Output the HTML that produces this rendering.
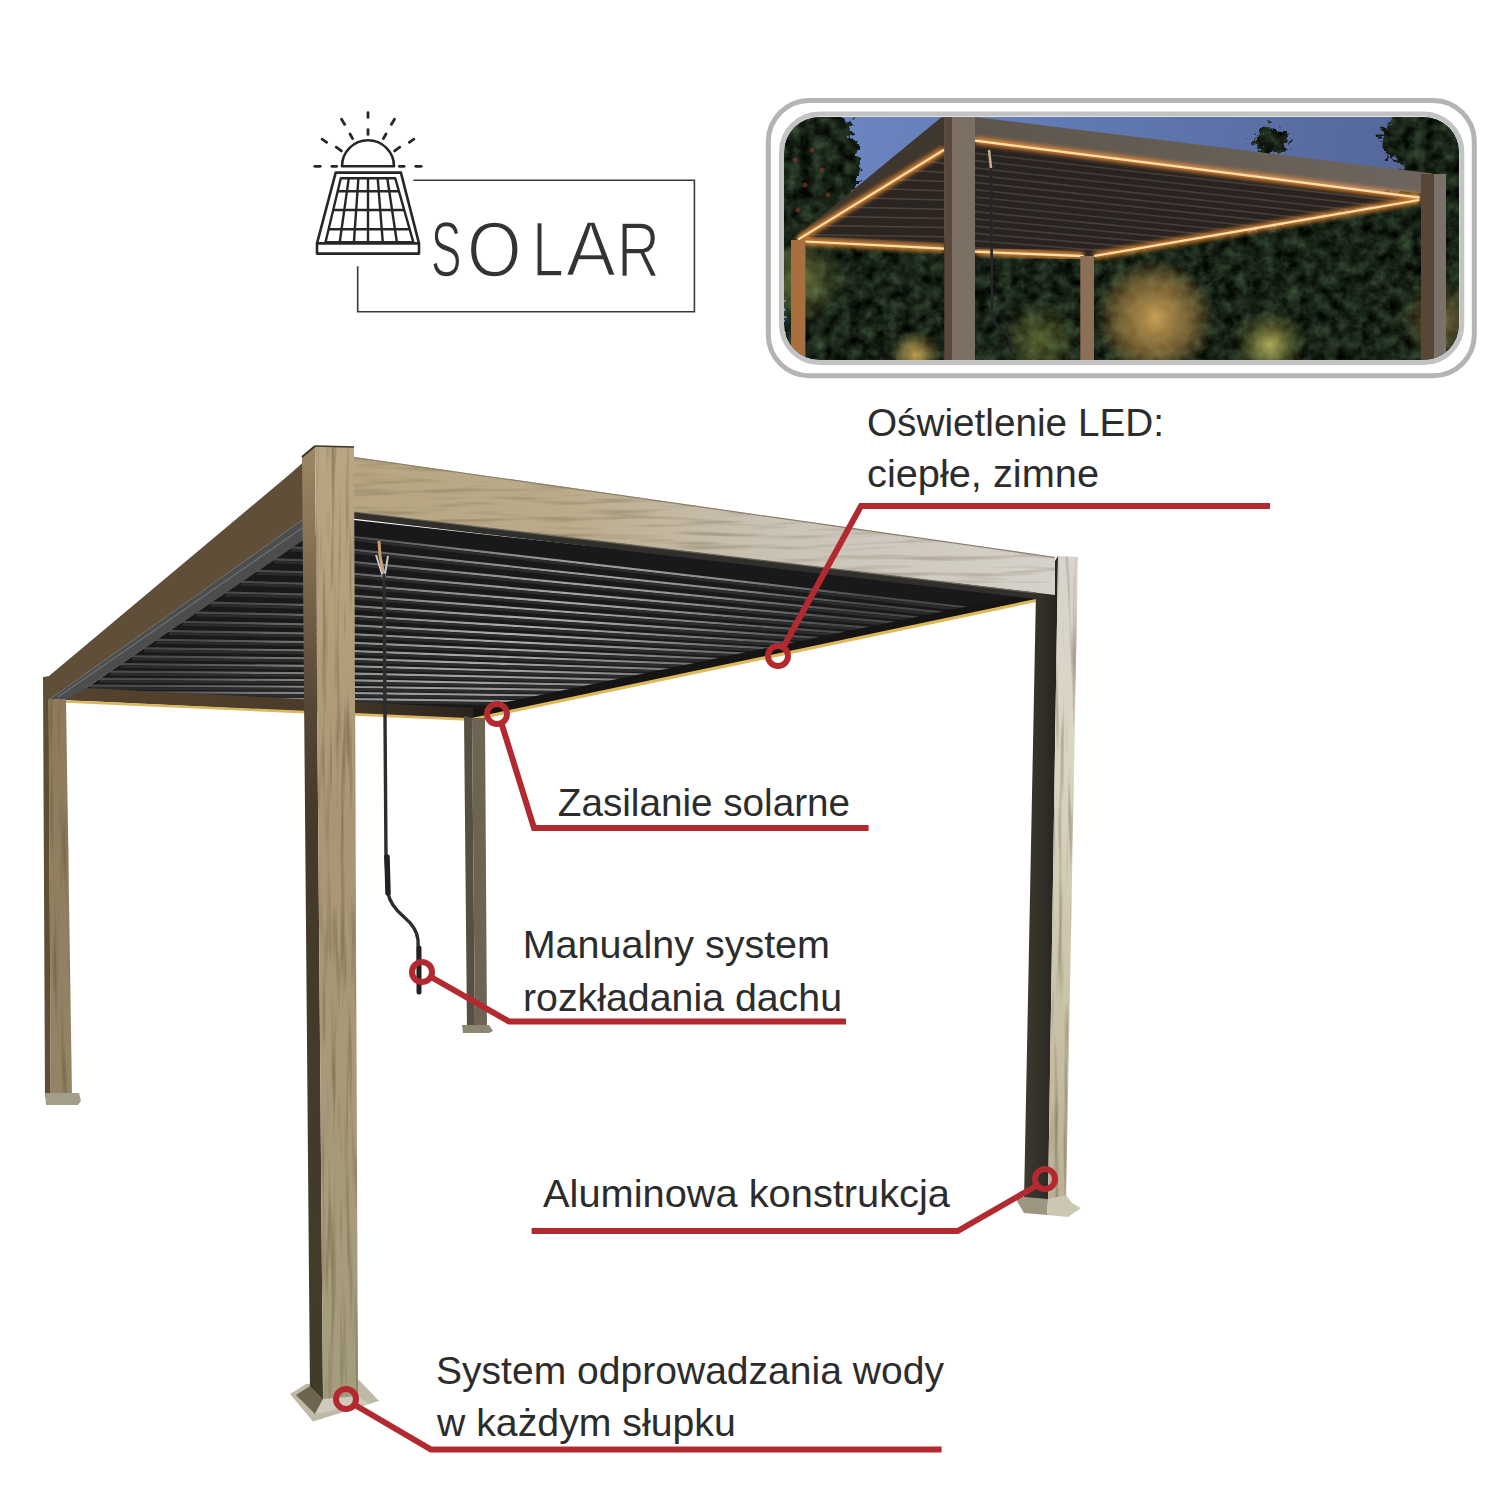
<!DOCTYPE html>
<html><head><meta charset="utf-8"><style>
html,body{margin:0;padding:0;background:#ffffff;}
svg{display:block;}
</style></head><body>
<svg width="1500" height="1500" viewBox="0 0 1500 1500">
<rect width="1500" height="1500" fill="#ffffff"/>
<defs>
<linearGradient id="gBeam" x1="354" y1="0" x2="1055" y2="0" gradientUnits="userSpaceOnUse">
  <stop offset="0" stop-color="#b8a682"/><stop offset="0.3" stop-color="#bcab8a"/><stop offset="0.6" stop-color="#cac3b5"/><stop offset="1" stop-color="#d6d2ca"/>
</linearGradient>
<linearGradient id="gPostF" x1="0" y1="446" x2="0" y2="1400" gradientUnits="userSpaceOnUse">
  <stop offset="0" stop-color="#b9a783"/><stop offset="0.4" stop-color="#aa9674"/><stop offset="1" stop-color="#a59d7d"/>
</linearGradient>
<linearGradient id="gPostS" x1="0" y1="446" x2="0" y2="1400" gradientUnits="userSpaceOnUse">
  <stop offset="0" stop-color="#9c8866"/><stop offset="0.08" stop-color="#8c7858"/><stop offset="0.27" stop-color="#554636"/><stop offset="0.4" stop-color="#45392a"/><stop offset="1" stop-color="#3f3c2b"/>
</linearGradient>
<linearGradient id="gRPostL" x1="0" y1="556" x2="0" y2="1200" gradientUnits="userSpaceOnUse">
  <stop offset="0" stop-color="#d8d4cc"/><stop offset="0.3" stop-color="#dbd5c3"/><stop offset="0.7" stop-color="#cac2a9"/><stop offset="1" stop-color="#b9b096"/>
</linearGradient>
<linearGradient id="gRPostD" x1="1024" y1="0" x2="1058" y2="0" gradientUnits="userSpaceOnUse">
  <stop offset="0" stop-color="#3d3a2f"/><stop offset="1" stop-color="#26241f"/>
</linearGradient>
<linearGradient id="gLPost" x1="0" y1="676" x2="0" y2="1100" gradientUnits="userSpaceOnUse">
  <stop offset="0" stop-color="#8e7a5a"/><stop offset="1" stop-color="#948466"/>
</linearGradient>
<radialGradient id="gSlat" cx="0" cy="0" r="1" gradientUnits="userSpaceOnUse" gradientTransform="translate(520,630) rotate(-25) scale(480,160)">
  <stop offset="0" stop-color="#b0b0b0"/><stop offset="0.5" stop-color="#88898a"/><stop offset="1" stop-color="#4a4b4d"/>
</radialGradient>
<linearGradient id="gSky" x1="784" y1="117" x2="1400" y2="220" gradientUnits="userSpaceOnUse">
  <stop offset="0" stop-color="#6d88c4"/><stop offset="0.5" stop-color="#6078b0"/><stop offset="1" stop-color="#55679a"/>
</linearGradient>
<linearGradient id="gPhBeam" x1="975" y1="0" x2="1433" y2="0" gradientUnits="userSpaceOnUse">
  <stop offset="0" stop-color="#5e554c"/><stop offset="1" stop-color="#6e665e"/>
</linearGradient>
<radialGradient id="gLit1" cx="1155" cy="318" r="60" gradientUnits="userSpaceOnUse">
  <stop offset="0" stop-color="#d0a458" stop-opacity="0.95"/><stop offset="0.6" stop-color="#b08a48" stop-opacity="0.6"/><stop offset="1" stop-color="#b08a48" stop-opacity="0"/>
</radialGradient>
<radialGradient id="gLit2" cx="1270" cy="345" r="35" gradientUnits="userSpaceOnUse">
  <stop offset="0" stop-color="#d8d070" stop-opacity="0.8"/><stop offset="1" stop-color="#a0a040" stop-opacity="0"/>
</radialGradient>
<radialGradient id="gLit3" cx="800" cy="280" r="45" gradientUnits="userSpaceOnUse">
  <stop offset="0" stop-color="#9aa050" stop-opacity="0.6"/><stop offset="1" stop-color="#9aa050" stop-opacity="0"/>
</radialGradient>
<radialGradient id="gLit4" cx="1040" cy="340" r="40" gradientUnits="userSpaceOnUse">
  <stop offset="0" stop-color="#9aa048" stop-opacity="0.5"/><stop offset="1" stop-color="#9aa048" stop-opacity="0"/>
</radialGradient>
<radialGradient id="gLit5" cx="915" cy="355" r="25" gradientUnits="userSpaceOnUse">
  <stop offset="0" stop-color="#e8c060" stop-opacity="0.8"/><stop offset="1" stop-color="#e8c060" stop-opacity="0"/>
</radialGradient>
<radialGradient id="gLit6" cx="1440" cy="320" r="40" gradientUnits="userSpaceOnUse">
  <stop offset="0" stop-color="#b08a50" stop-opacity="0.6"/><stop offset="1" stop-color="#b08a50" stop-opacity="0"/>
</radialGradient>
<filter color-interpolation-filters="sRGB" id="foliage" x="0" y="0" width="1" height="1">
  <feTurbulence type="fractalNoise" baseFrequency="0.08" numOctaves="4" seed="11"/>
  <feColorMatrix type="matrix" values="0.3 0 0 0 -0.055  0.4 0 0 0 -0.06  0.3 0 0 0 -0.06  0 0 0 0 1"/>
</filter>
<filter color-interpolation-filters="sRGB" id="leafy" x="-20%" y="-20%" width="140%" height="140%">
  <feTurbulence type="turbulence" baseFrequency="0.12" numOctaves="2" seed="5" result="t"/>
  <feDisplacementMap in="SourceGraphic" in2="t" scale="16" xChannelSelector="R" yChannelSelector="G"/>
</filter>
<filter color-interpolation-filters="sRGB" id="grainV" x="0" y="0" width="1" height="1">
  <feTurbulence type="fractalNoise" baseFrequency="0.22 0.01" numOctaves="2" seed="3" result="n"/>
  <feColorMatrix in="n" type="matrix" values="0 0 0 0 0.25  0 0 0 0 0.2  0 0 0 0 0.12  -1.0 0 0 0 0.5" result="c"/>
  <feComposite in="c" in2="SourceAlpha" operator="in" result="g"/>
  <feMerge><feMergeNode in="SourceGraphic"/><feMergeNode in="g"/></feMerge>
</filter>
<filter color-interpolation-filters="sRGB" id="grainH" x="0" y="0" width="1" height="1">
  <feTurbulence type="fractalNoise" baseFrequency="0.012 0.18" numOctaves="2" seed="9" result="n"/>
  <feColorMatrix in="n" type="matrix" values="0 0 0 0 0.3  0 0 0 0 0.25  0 0 0 0 0.18  -0.8 0 0 0 0.4" result="c"/>
  <feComposite in="c" in2="SourceAlpha" operator="in" result="g"/>
  <feMerge><feMergeNode in="SourceGraphic"/><feMergeNode in="g"/></feMerge>
</filter>
<filter color-interpolation-filters="sRGB" id="glow" x="-20%" y="-60%" width="140%" height="220%"><feGaussianBlur stdDeviation="2.4"/></filter>
<filter color-interpolation-filters="sRGB" id="blur1" x="-10%" y="-10%" width="120%" height="120%"><feGaussianBlur stdDeviation="0.8"/></filter>
<linearGradient id="gBack" x1="66" y1="0" x2="473" y2="0" gradientUnits="userSpaceOnUse"><stop offset="0" stop-color="#55432e"/><stop offset="0.6" stop-color="#4a3b2a"/><stop offset="1" stop-color="#2a241e"/></linearGradient>
<clipPath id="roofClip"><polygon points="86,688 302,540 354,520 1036,595 473,712 66,700"/></clipPath>
<clipPath id="photoClip"><rect x="784" y="117" width="675" height="243" rx="35" ry="35"/></clipPath>
</defs><g id="logo"><path d="M342,166.3 A26,26 0 0 1 394,166.3 Z" fill="none" stroke="#262626" stroke-width="2.6" stroke-linejoin="round"/><line x1="368.0" y1="129.6" x2="368.0" y2="134.4" stroke="#262626" stroke-width="2.8" stroke-linecap="round"/><line x1="368.0" y1="112.6" x2="368.0" y2="117.4" stroke="#262626" stroke-width="2.8" stroke-linecap="round"/><line x1="350.0" y1="134.0" x2="352.6" y2="138.6" stroke="#262626" stroke-width="2.8" stroke-linecap="round"/><line x1="386.0" y1="134.0" x2="383.4" y2="138.6" stroke="#262626" stroke-width="2.8" stroke-linecap="round"/><line x1="341.5" y1="119.2" x2="344.7" y2="124.4" stroke="#262626" stroke-width="2.8" stroke-linecap="round"/><line x1="394.5" y1="119.2" x2="391.3" y2="124.4" stroke="#262626" stroke-width="2.8" stroke-linecap="round"/><line x1="336.2" y1="147.2" x2="341.4" y2="150.9" stroke="#262626" stroke-width="2.8" stroke-linecap="round"/><line x1="399.8" y1="147.2" x2="394.6" y2="150.9" stroke="#262626" stroke-width="2.8" stroke-linecap="round"/><line x1="322.1" y1="139.2" x2="326.7" y2="142.3" stroke="#262626" stroke-width="2.8" stroke-linecap="round"/><line x1="413.9" y1="139.2" x2="409.3" y2="142.3" stroke="#262626" stroke-width="2.8" stroke-linecap="round"/><line x1="314.9" y1="166.3" x2="320.2" y2="166.3" stroke="#262626" stroke-width="2.8" stroke-linecap="round"/><line x1="421.1" y1="166.3" x2="415.8" y2="166.3" stroke="#262626" stroke-width="2.8" stroke-linecap="round"/><line x1="331.9" y1="166.3" x2="336.7" y2="166.3" stroke="#262626" stroke-width="2.8" stroke-linecap="round"/><line x1="404.1" y1="166.3" x2="399.3" y2="166.3" stroke="#262626" stroke-width="2.8" stroke-linecap="round"/><path d="M335.7,172.6 L400.9,172.6 L419,243.4 L419,253.6 L317,253.6 L317,243.4 Z" fill="none" stroke="#262626" stroke-width="2.6" stroke-linejoin="round"/><line x1="317.0" y1="243.4" x2="419.0" y2="243.4" stroke="#262626" stroke-width="2.6" /><path d="M340.8,178.2 L395.2,178.2 L413.4,242.3 L325.5,242.3 Z" fill="none" stroke="#262626" stroke-width="2.4" stroke-linejoin="round"/><line x1="337.7" y1="191.3" x2="398.9" y2="191.3" stroke="#262626" stroke-width="2.4" /><line x1="333.2" y1="210.0" x2="404.2" y2="210.0" stroke="#262626" stroke-width="2.4" /><line x1="328.6" y1="229.3" x2="409.7" y2="229.3" stroke="#262626" stroke-width="2.4" /><line x1="348.8" y1="178.2" x2="339.7" y2="242.3" stroke="#262626" stroke-width="2.4" /><line x1="358.4" y1="178.2" x2="353.9" y2="242.3" stroke="#262626" stroke-width="2.4" /><line x1="368.0" y1="178.2" x2="368.0" y2="242.3" stroke="#262626" stroke-width="2.4" /><line x1="377.7" y1="178.2" x2="382.8" y2="242.3" stroke="#262626" stroke-width="2.4" /><line x1="387.3" y1="178.2" x2="396.9" y2="242.3" stroke="#262626" stroke-width="2.4" /><path d="M413.4,180.3 L694.4,180.3 L694.4,311.7 L357.7,311.7 L357.7,266.2" fill="none" stroke="#3a3a3a" stroke-width="1.6"/><text transform="translate(430.7,0) scale(0.6,1)" x="0" y="275.9" font-family="Liberation Sans" font-size="77" fill="#333333" stroke="#ffffff" stroke-width="1.7">S</text><text transform="translate(467.0,0) scale(0.91,1)" x="0" y="275.9" font-family="Liberation Sans" font-size="77" fill="#333333" stroke="#ffffff" stroke-width="1.7">O</text><text transform="translate(532.2,0) scale(0.735,1)" x="0" y="275.9" font-family="Liberation Sans" font-size="77" fill="#333333" stroke="#ffffff" stroke-width="1.7">L</text><text transform="translate(565.9,0) scale(0.968,1)" x="0" y="275.9" font-family="Liberation Sans" font-size="77" fill="#333333" stroke="#ffffff" stroke-width="1.7">A</text><text transform="translate(617.0,0) scale(0.77,1)" x="0" y="275.9" font-family="Liberation Sans" font-size="77" fill="#333333" stroke="#ffffff" stroke-width="1.7">R</text></g><g clip-path="url(#photoClip)"><rect x="784" y="117" width="675" height="243" fill="url(#gSky)"/><mask id="treeMask" maskUnits="userSpaceOnUse" x="770" y="100" width="710" height="280"><g fill="#fff" filter="url(#leafy)"><ellipse cx="800" cy="200" rx="45" ry="110"/><ellipse cx="835" cy="160" rx="22" ry="35"/><ellipse cx="815" cy="128" rx="35" ry="22"/><ellipse cx="870" cy="245" rx="35" ry="18"/><ellipse cx="1440" cy="200" rx="45" ry="120"/><ellipse cx="1405" cy="135" rx="28" ry="25"/><ellipse cx="1400" cy="230" rx="40" ry="40"/><ellipse cx="1268" cy="137" rx="18" ry="14"/><ellipse cx="1330" cy="245" rx="80" ry="35"/><ellipse cx="1220" cy="255" rx="90" ry="30"/><ellipse cx="1000" cy="255" rx="100" ry="25"/><ellipse cx="900" cy="260" rx="80" ry="20"/><ellipse cx="1150" cy="255" rx="60" ry="15"/><ellipse cx="1360" cy="232" rx="60" ry="28"/><ellipse cx="1405" cy="215" rx="40" ry="30"/><ellipse cx="1262" cy="242" rx="45" ry="18"/><rect x="780" y="255" width="690" height="110"/></g></mask><rect x="784" y="100" width="675" height="260" filter="url(#foliage)" mask="url(#treeMask)"/><rect x="784" y="117" width="675" height="243" fill="url(#gLit1)"/><rect x="784" y="117" width="675" height="243" fill="url(#gLit2)"/><rect x="784" y="117" width="675" height="243" fill="url(#gLit3)"/><rect x="784" y="117" width="675" height="243" fill="url(#gLit4)"/><rect x="784" y="117" width="675" height="243" fill="url(#gLit5)"/><rect x="784" y="117" width="675" height="243" fill="url(#gLit6)"/><circle cx="795" cy="160" r="2.5" fill="#8a3a2a" opacity="0.6"/><circle cx="805" cy="185" r="2.5" fill="#8a3a2a" opacity="0.6"/><circle cx="822" cy="170" r="2.5" fill="#8a3a2a" opacity="0.6"/><circle cx="798" cy="210" r="2.5" fill="#8a3a2a" opacity="0.6"/><circle cx="812" cy="150" r="2.5" fill="#8a3a2a" opacity="0.6"/><circle cx="828" cy="195" r="2.5" fill="#8a3a2a" opacity="0.6"/><polygon points="798.0,239.6 944.4,149.6 944.4,246.0 805.0,238.0" fill="#2a2521" /><line x1="925.5" y1="161.2" x2="944.0" y2="163.2" stroke="#564a40" stroke-width="1.5" opacity="0.8"/><line x1="910.6" y1="170.4" x2="944.0" y2="172.4" stroke="#564a40" stroke-width="1.5" opacity="0.8"/><line x1="895.6" y1="179.6" x2="944.0" y2="181.6" stroke="#564a40" stroke-width="1.5" opacity="0.8"/><line x1="880.6" y1="188.8" x2="944.0" y2="190.8" stroke="#564a40" stroke-width="1.5" opacity="0.8"/><line x1="865.7" y1="198.0" x2="944.0" y2="200.0" stroke="#564a40" stroke-width="1.5" opacity="0.8"/><line x1="850.7" y1="207.2" x2="944.0" y2="209.2" stroke="#564a40" stroke-width="1.5" opacity="0.8"/><line x1="835.7" y1="216.4" x2="944.0" y2="218.4" stroke="#564a40" stroke-width="1.5" opacity="0.8"/><line x1="820.8" y1="225.6" x2="944.0" y2="227.6" stroke="#564a40" stroke-width="1.5" opacity="0.8"/><line x1="805.8" y1="234.8" x2="944.0" y2="236.8" stroke="#564a40" stroke-width="1.5" opacity="0.8"/><polygon points="975.0,141.0 1420.0,197.0 1094.0,256.0 975.0,251.0" fill="#282320" /><line x1="975.0" y1="153.3" x2="1396.7" y2="201.2" stroke="#5a5048" stroke-width="1.6" opacity="0.6"/><line x1="975.0" y1="160.6" x2="1373.4" y2="205.4" stroke="#5a5048" stroke-width="1.6" opacity="0.6"/><line x1="975.0" y1="167.9" x2="1350.1" y2="209.6" stroke="#5a5048" stroke-width="1.6" opacity="0.6"/><line x1="975.0" y1="175.1" x2="1326.9" y2="213.9" stroke="#5a5048" stroke-width="1.6" opacity="0.6"/><line x1="975.0" y1="182.4" x2="1303.6" y2="218.1" stroke="#5a5048" stroke-width="1.6" opacity="0.6"/><line x1="975.0" y1="189.7" x2="1280.3" y2="222.3" stroke="#5a5048" stroke-width="1.6" opacity="0.6"/><line x1="975.0" y1="197.0" x2="1257.0" y2="226.5" stroke="#5a5048" stroke-width="1.6" opacity="0.6"/><line x1="975.0" y1="204.3" x2="1233.7" y2="230.7" stroke="#5a5048" stroke-width="1.6" opacity="0.6"/><line x1="975.0" y1="211.6" x2="1210.4" y2="234.9" stroke="#5a5048" stroke-width="1.6" opacity="0.6"/><line x1="975.0" y1="218.9" x2="1187.1" y2="239.1" stroke="#5a5048" stroke-width="1.6" opacity="0.6"/><line x1="975.0" y1="226.1" x2="1163.9" y2="243.4" stroke="#5a5048" stroke-width="1.6" opacity="0.6"/><line x1="975.0" y1="233.4" x2="1140.6" y2="247.6" stroke="#5a5048" stroke-width="1.6" opacity="0.6"/><line x1="975.0" y1="240.7" x2="1117.3" y2="251.8" stroke="#5a5048" stroke-width="1.6" opacity="0.6"/><polygon points="795.6,237.2 940.8,117.8 944.4,117.0 944.4,149.6 798.0,239.6" fill="#3f362e" /><polygon points="975.0,117.0 1433.0,173.6 1433.0,195.0 975.0,140.6" fill="url(#gPhBeam)" /><polygon points="805.0,236.0 944.0,243.0 944.0,249.0 805.0,242.0" fill="#4a3e33" /><polygon points="975.0,247.0 1083.0,252.0 1083.0,257.0 975.0,252.0" fill="#4a3e33" /><line x1="798.0" y1="239.6" x2="944.4" y2="149.6" stroke="#ff9838" stroke-width="6" filter="url(#glow)" opacity="0.95"/><line x1="805.0" y1="241.5" x2="944.0" y2="248.7" stroke="#ff9838" stroke-width="6" filter="url(#glow)" opacity="0.95"/><line x1="975.0" y1="251.7" x2="1083.7" y2="256.2" stroke="#ff9838" stroke-width="6" filter="url(#glow)" opacity="0.95"/><line x1="975.0" y1="140.6" x2="1419.6" y2="197.6" stroke="#ff9838" stroke-width="6" filter="url(#glow)" opacity="0.95"/><line x1="1094.0" y1="256.0" x2="1419.0" y2="200.0" stroke="#ff9838" stroke-width="6" filter="url(#glow)" opacity="0.95"/><line x1="798.0" y1="239.6" x2="944.4" y2="149.6" stroke="#ffe0a8" stroke-width="2.2" /><line x1="805.0" y1="241.5" x2="944.0" y2="248.7" stroke="#ffe0a8" stroke-width="2.2" /><line x1="975.0" y1="251.7" x2="1083.7" y2="256.2" stroke="#ffe0a8" stroke-width="2.2" /><line x1="975.0" y1="140.6" x2="1419.6" y2="197.6" stroke="#ffe0a8" stroke-width="2.2" /><line x1="1094.0" y1="256.0" x2="1419.0" y2="200.0" stroke="#ffe0a8" stroke-width="2.2" /><polygon points="791.0,240.0 805.4,240.0 805.4,360.0 791.0,360.0" fill="#a8703f" /><polygon points="1080.3,256.0 1094.0,256.0 1094.0,360.0 1080.3,360.0" fill="#8d7058" /><polygon points="944.3,117.0 952.0,117.0 952.0,360.0 944.3,360.0" fill="#5a4838" /><polygon points="952.0,117.0 975.0,117.0 975.0,360.0 952.0,360.0" fill="#7c7064" /><polygon points="1421.0,174.0 1434.0,174.0 1434.0,360.0 1421.0,360.0" fill="#5a4636" /><polygon points="1434.0,174.0 1446.0,174.0 1446.0,360.0 1434.0,360.0" fill="#7a7268" /><path d="M991,150 L992,312 Q993,325 1005,333 Q1011,338 1011,345 L1011,352" fill="none" stroke="#26262a" stroke-width="2.6"/><path d="M989,150 L991,168" stroke="#c8b090" stroke-width="2.5"/></g><rect x="781.5" y="114" width="680.3" height="248.6" rx="38" ry="38" fill="none" stroke="#c3c3c3" stroke-width="5"/><rect x="768.3" y="100.5" width="706" height="275.2" rx="41" ry="41" fill="none" stroke="#b4b4b4" stroke-width="5"/><g id="pergola"><polygon points="86.0,688.0 302.0,540.0 354.0,520.0 1036.0,595.0 473.0,712.0 66.0,700.0" fill="#19191b" /><g clip-path="url(#roofClip)"><path d="M309.1,535.2 L354,537.0 L966.9,607.5" fill="none" stroke="url(#gSlat)" stroke-width="2.2"/><path d="M309.1,537.8 L354,539.6 L966.9,610.1" fill="none" stroke="#2c2c2e" stroke-width="2.6"/><path d="M291.1,547.5 L354,549.9 L943.0,612.5" fill="none" stroke="url(#gSlat)" stroke-width="2.2"/><path d="M291.1,550.1 L354,552.5 L943.0,615.1" fill="none" stroke="#2c2c2e" stroke-width="2.6"/><path d="M273.7,559.4 L354,562.2 L918.9,617.5" fill="none" stroke="url(#gSlat)" stroke-width="2.2"/><path d="M273.7,562.0 L354,564.8 L918.9,620.1" fill="none" stroke="#2c2c2e" stroke-width="2.6"/><path d="M257.0,570.9 L354,573.9 L894.5,622.6" fill="none" stroke="url(#gSlat)" stroke-width="2.2"/><path d="M257.0,573.5 L354,576.5 L894.5,625.2" fill="none" stroke="#2c2c2e" stroke-width="2.6"/><path d="M240.9,581.9 L354,585.2 L870.1,627.8" fill="none" stroke="url(#gSlat)" stroke-width="2.2"/><path d="M240.9,584.5 L354,587.8 L870.1,630.4" fill="none" stroke="#2c2c2e" stroke-width="2.6"/><path d="M225.4,592.5 L354,595.9 L845.5,632.9" fill="none" stroke="url(#gSlat)" stroke-width="2.2"/><path d="M225.4,595.1 L354,598.5 L845.5,635.5" fill="none" stroke="#2c2c2e" stroke-width="2.6"/><path d="M210.5,602.7 L354,606.2 L820.8,638.1" fill="none" stroke="url(#gSlat)" stroke-width="2.2"/><path d="M210.5,605.3 L354,608.8 L820.8,640.7" fill="none" stroke="#2c2c2e" stroke-width="2.6"/><path d="M196.1,612.6 L354,616.0 L796.0,643.3" fill="none" stroke="url(#gSlat)" stroke-width="2.2"/><path d="M196.1,615.2 L354,618.6 L796.0,645.9" fill="none" stroke="#2c2c2e" stroke-width="2.6"/><path d="M182.3,622.0 L354,625.4 L771.1,648.5" fill="none" stroke="url(#gSlat)" stroke-width="2.2"/><path d="M182.3,624.6 L354,628.0 L771.1,651.1" fill="none" stroke="#2c2c2e" stroke-width="2.6"/><path d="M169.0,631.1 L354,634.3 L746.2,653.7" fill="none" stroke="url(#gSlat)" stroke-width="2.2"/><path d="M169.0,633.7 L354,636.9 L746.2,656.3" fill="none" stroke="#2c2c2e" stroke-width="2.6"/><path d="M156.2,639.9 L354,642.9 L721.3,659.0" fill="none" stroke="url(#gSlat)" stroke-width="2.2"/><path d="M156.2,642.5 L354,645.5 L721.3,661.6" fill="none" stroke="#2c2c2e" stroke-width="2.6"/><path d="M144.0,648.3 L354,651.1 L696.4,664.2" fill="none" stroke="url(#gSlat)" stroke-width="2.2"/><path d="M144.0,650.9 L354,653.7 L696.4,666.8" fill="none" stroke="#2c2c2e" stroke-width="2.6"/><path d="M132.1,656.4 L354,658.9 L671.5,669.4" fill="none" stroke="url(#gSlat)" stroke-width="2.2"/><path d="M132.1,659.0 L354,661.5 L671.5,672.0" fill="none" stroke="#2c2c2e" stroke-width="2.6"/><path d="M120.8,664.2 L354,666.4 L646.7,674.6" fill="none" stroke="url(#gSlat)" stroke-width="2.2"/><path d="M120.8,666.8 L354,669.0 L646.7,677.2" fill="none" stroke="#2c2c2e" stroke-width="2.6"/><path d="M109.9,671.6 L354,673.6 L622.0,679.8" fill="none" stroke="url(#gSlat)" stroke-width="2.2"/><path d="M109.9,674.2 L354,676.2 L622.0,682.4" fill="none" stroke="#2c2c2e" stroke-width="2.6"/><path d="M99.4,678.8 L354,680.4 L597.4,684.9" fill="none" stroke="url(#gSlat)" stroke-width="2.2"/><path d="M99.4,681.4 L354,683.0 L597.4,687.5" fill="none" stroke="#2c2c2e" stroke-width="2.6"/><path d="M89.4,685.7 L354,687.0 L573.0,690.0" fill="none" stroke="url(#gSlat)" stroke-width="2.2"/><path d="M89.4,688.3 L354,689.6 L573.0,692.6" fill="none" stroke="#2c2c2e" stroke-width="2.6"/><path d="M80.1,692.1 L354,693.2 L546.8,695.5" fill="none" stroke="url(#gSlat)" stroke-width="2.2"/><path d="M80.1,694.7 L354,695.8 L546.8,698.1" fill="none" stroke="#2c2c2e" stroke-width="2.6"/><path d="M71.4,698.0 L354,699.2 L519.8,701.2" fill="none" stroke="url(#gSlat)" stroke-width="2.2"/><path d="M71.4,700.6 L354,701.8 L519.8,703.8" fill="none" stroke="#2c2c2e" stroke-width="2.6"/></g><polygon points="66.0,687.0 473.0,708.0 473.0,720.0 66.0,700.0" fill="url(#gBack)" /><line x1="66.0" y1="701.5" x2="473.0" y2="719.6" stroke="#d9b862" stroke-width="2.6" /><polygon points="473.0,709.0 1036.0,592.0 1036.0,600.0 473.0,720.0" fill="#161514" /><line x1="473.0" y1="719.3" x2="1036.0" y2="600.5" stroke="#e0b85c" stroke-width="3.2" /><polygon points="43.0,677.0 48.7,676.3 290.0,474.0 308.0,458.0 308.0,516.0 48.7,700.0" fill="#604f38" /><polygon points="48.7,700.0 308.0,516.0 308.0,537.0 83.0,690.0 64.7,700.0" fill="#4c4d4e" /><line x1="58.0" y1="697.0" x2="308.0" y2="524.0" stroke="#6d6e6f" stroke-width="1.4" /><polygon points="43.0,678.0 48.7,676.3 50.7,1097.0 45.0,1097.0" fill="#5e4e38" /><polygon points="48.5,699.0 66.0,699.0 72.0,1097.0 50.7,1097.0" fill="url(#gLPost)" filter="url(#grainV)"/><polygon points="45.0,1093.0 79.0,1093.0 81.0,1101.0 78.0,1105.0 46.0,1105.0" fill="#a39d8c" /><polygon points="464.0,716.0 472.0,718.0 475.0,1030.0 467.0,1030.0" fill="#574f42" /><polygon points="472.0,718.0 485.0,718.0 487.0,1030.0 475.0,1030.0" fill="#6d6454" /><polygon points="462.0,1025.0 489.0,1025.0 493.0,1031.0 489.0,1033.0 463.0,1033.0" fill="#8e8674" /><polygon points="1036.0,592.0 1058.0,556.0 1048.0,1201.0 1024.0,1201.0" fill="url(#gRPostD)" /><polygon points="1058.0,556.0 1078.0,557.0 1066.0,1201.0 1048.0,1201.0" fill="url(#gRPostL)" filter="url(#grainV)"/><polygon points="1014.0,1196.0 1048.0,1199.0 1047.0,1215.0 1024.0,1213.0" fill="#9c9580" /><polygon points="1048.0,1199.0 1066.0,1195.0 1072.0,1203.0 1081.0,1208.0 1068.0,1217.0 1047.0,1215.0" fill="#ccc6b4" /><polygon points="348.0,511.0 1036.0,592.0 1036.0,599.0 348.0,518.0" fill="#302f2c" /><polygon points="348.0,456.0 1055.0,557.0 1055.0,595.0 348.0,511.0" fill="url(#gBeam)" filter="url(#grainH)"/><line x1="354.0" y1="457.5" x2="1055.0" y2="557.5" stroke="#8a8070" stroke-width="1.2" /><line x1="354.0" y1="512.0" x2="1036.0" y2="593.0" stroke="#6a655c" stroke-width="1.2" /><polygon points="290.0,1394.0 306.0,1384.0 359.0,1380.0 379.0,1401.0 313.0,1421.5" fill="#bfb9a8" /><polygon points="302.0,457.0 315.0,446.0 323.0,1400.0 310.0,1395.0" fill="url(#gPostS)" /><polygon points="315.0,446.0 354.0,447.0 358.0,1400.0 323.0,1400.0" fill="url(#gPostF)" filter="url(#grainV)"/><line x1="302.0" y1="457.0" x2="315.0" y2="446.0" stroke="#3a3328" stroke-width="2" /><line x1="315.0" y1="446.0" x2="354.0" y2="447.0" stroke="#3a3328" stroke-width="1.5" /><polygon points="296.0,1395.0 310.0,1386.0 323.0,1399.0 315.0,1414.0" fill="#6e6450" /><polygon points="323.0,1399.0 358.0,1396.0 369.0,1404.0 315.0,1414.0" fill="#cfcabb" /><path d="M379,541 L380,556 L384,575" fill="none" stroke="#c99c74" stroke-width="3"/><path d="M376,555 L384,580 L388,556" fill="none" stroke="#c9c9c9" stroke-width="2"/><path d="M384,575 L386,858 L388,893 Q390,905 404,917 Q417,928 418,940 L419,992" fill="none" stroke="#2d2d2f" stroke-width="3.4" stroke-linecap="round"/><line x1="387.0" y1="857.0" x2="388.0" y2="893.0" stroke="#222" stroke-width="5.5" stroke-linecap="round"/><line x1="419.0" y1="948.0" x2="419.0" y2="992.0" stroke="#222" stroke-width="5" stroke-linecap="round"/></g><g><path d="M784.0,646.0 L861.0,506.0 L1270.0,506.0" fill="none" stroke="#b22a2f" stroke-width="6" stroke-linejoin="miter"/><circle cx="778" cy="656" r="10" fill="none" stroke="#b22a2f" stroke-width="6"/><path d="M502.0,725.0 L534.0,828.0 L868.6,828.0" fill="none" stroke="#b22a2f" stroke-width="6" stroke-linejoin="miter"/><circle cx="497" cy="714" r="10" fill="none" stroke="#b22a2f" stroke-width="6"/><path d="M431.0,977.0 L509.0,1021.5 L846.0,1021.5" fill="none" stroke="#b22a2f" stroke-width="6" stroke-linejoin="miter"/><circle cx="422" cy="972" r="10" fill="none" stroke="#b22a2f" stroke-width="6"/><path d="M531.6,1231.0 L957.7,1231.0 L1036.0,1186.0" fill="none" stroke="#b22a2f" stroke-width="6" stroke-linejoin="miter"/><circle cx="1045" cy="1179" r="10" fill="none" stroke="#b22a2f" stroke-width="6"/><path d="M355.0,1405.0 L431.0,1449.5 L941.6,1449.5" fill="none" stroke="#b22a2f" stroke-width="6" stroke-linejoin="miter"/><circle cx="346" cy="1399" r="10" fill="none" stroke="#b22a2f" stroke-width="6"/></g><g><text x="867" y="435.5" font-family="Liberation Sans" font-size="39" fill="#2c2c2c" textLength="297" lengthAdjust="spacingAndGlyphs">Oświetlenie LED:</text><text x="867" y="487" font-family="Liberation Sans" font-size="39" fill="#2c2c2c" textLength="232" lengthAdjust="spacingAndGlyphs">ciepłe, zimne</text><text x="557.8" y="816.4" font-family="Liberation Sans" font-size="39" fill="#2c2c2c" textLength="292.2" lengthAdjust="spacingAndGlyphs">Zasilanie solarne</text><text x="522.7" y="958.3" font-family="Liberation Sans" font-size="39" fill="#2c2c2c" textLength="307.3" lengthAdjust="spacingAndGlyphs">Manualny system</text><text x="523" y="1010.5" font-family="Liberation Sans" font-size="39" fill="#2c2c2c" textLength="319" lengthAdjust="spacingAndGlyphs">rozkładania dachu</text><text x="543" y="1206.8" font-family="Liberation Sans" font-size="39" fill="#2c2c2c" textLength="407" lengthAdjust="spacingAndGlyphs">Aluminowa konstrukcja</text><text x="436" y="1384.3" font-family="Liberation Sans" font-size="39" fill="#2c2c2c" textLength="508" lengthAdjust="spacingAndGlyphs">System odprowadzania wody</text><text x="437" y="1435.8" font-family="Liberation Sans" font-size="39" fill="#2c2c2c" textLength="298.8" lengthAdjust="spacingAndGlyphs">w każdym słupku</text></g>
</svg>
</body></html>
